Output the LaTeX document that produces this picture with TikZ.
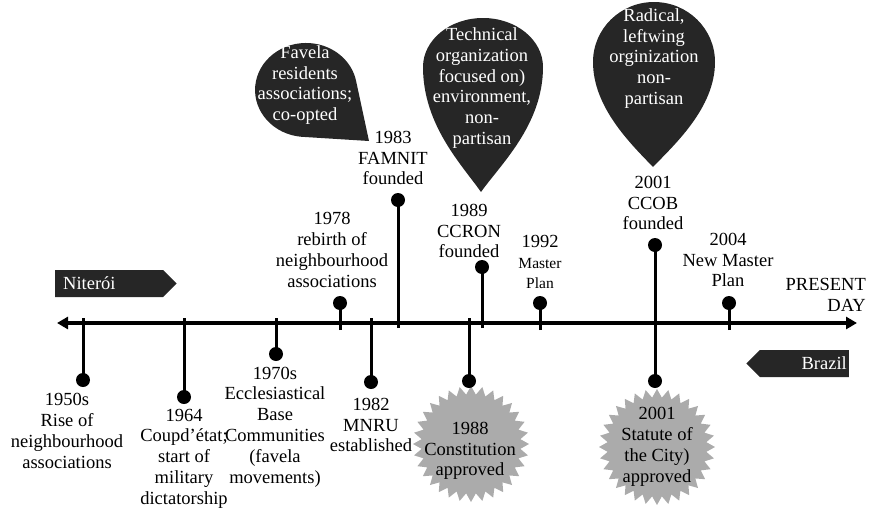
\documentclass[tikz,border=0pt]{standalone}
\usepackage{fontspec}
\setmainfont{Liberation Serif}
\usetikzlibrary{positioning}
\usetikzlibrary{arrows.meta}
\usetikzlibrary{shapes.geometric}
\usetikzlibrary{shapes.symbols}

\begin{document}
\begin{tikzpicture}
[x = 1pt, y = -1pt, 
font = \fontsize{18.5}{20.8}\selectfont, 
axis/.style = {{Triangle[length = 11pt, width = 12pt]}-{Triangle[length = 11pt, width = 12pt]}, line width = 4pt}, 
stem/.style = {line width = 3pt}, 
dot/.style = {circle, fill = black, inner sep = 0pt, minimum size = 14pt}, 
event/.style = {align = center, inner sep = 0pt}, 
pin/.style = {fill = black!85}, 
pin text/.style = {align = center, inner sep = 0pt, text = white}, 
burst/.style = {star, star points = 32, star point ratio = 1.17, fill = black!33, minimum size = 116pt, inner sep = 0pt}, 
place/.style = {signal, fill = black!85, text = white, minimum height = 27pt, inner ysep = 2pt}]

\useasboundingbox (0, 0) rectangle (871, 509);

% timeline
\coordinate (past) at (57, 323);
\coordinate (present) at (857, 323);
\draw[axis] (past) -- (present);
\node[event, align = right, anchor = east] (present day) at (866, 295) {PRESENT\\DAY};

\node[place, signal to = east, anchor = west, text width = 92pt, inner xsep = 8pt, align = left] (niteroi) at (55, 283.5) {Niterói};
\node[place, signal to = west, anchor = east, text width = 85pt, inner xsep = 2pt, align = right] (brazil) at (849, 363.5) {Brazil};

% bubbles
\fill[pin] (369, 141) -- (301.6, 136.8) arc[start angle = 95, end angle = 350, x radius = 51, y radius = 47] -- cycle;
\fill[pin] (481, 192) .. controls (462, 165) and (423, 125) .. (423, 67) arc[x radius = 60, y radius = 49, start angle = 180, end angle = 360] .. controls (543, 125) and (500, 165) .. (481, 192);
\fill[pin] (653, 167) .. controls (632, 145) and (593, 108) .. (593, 62) arc[x radius = 61, y radius = 60, start angle = 180, end angle = 360] .. controls (715, 108) and (674, 145) .. (653, 167);
\node[pin text] (favela) at (305, 85) {Favela\\residents\\associations;\\co-opted};
\node[pin text] (technical) at (482, 88) {Technical\\organization\\focused on)\\environment,\\non-\\partisan};
\node[pin text] (radical) at (654, 58.5) {Radical,\\leftwing\\orginization\\non-\\partisan};

\node[burst] (burst 1988) at (471, 444) {};
\node[burst] (burst 2001) at (657, 447) {};

% stems below the line
\coordinate (at 1950) at (83, 318);
\coordinate (at 1964) at (184, 318);
\coordinate (at 1970) at (276, 318);
\coordinate (at 1982) at (371, 318);
\coordinate (at 1988) at (469, 318);
\node[dot] (dot 1950) at (83, 380) {};
\node[dot] (dot 1964) at (184, 397) {};
\node[dot] (dot 1970) at (276, 354) {};
\node[dot] (dot 1982) at (371, 382) {};
\node[dot] (dot 1988) at (469, 381) {};
\draw[stem] (at 1950) -- (dot 1950.center);
\draw[stem] (at 1964) -- (dot 1964.center);
\draw[stem] (at 1970) -- (dot 1970.center);
\draw[stem] (at 1982) -- (dot 1982.center);
\draw[stem] (at 1988) -- (dot 1988.center);

% stems above the line
\coordinate (at 1978) at (340, 330);
\coordinate (at 1983) at (398, 328);
\coordinate (at 1989) at (482, 328);
\coordinate (at 1992) at (540, 330);
\coordinate (at 2004) at (729, 330);
\node[dot] (dot 1978) at (340, 303) {};
\node[dot] (dot 1983) at (398, 200) {};
\node[dot] (dot 1989) at (482, 267) {};
\node[dot] (dot 1992) at (540, 303) {};
\node[dot] (dot 2004) at (729, 303) {};
\draw[stem] (at 1978) -- (dot 1978.center);
\draw[stem] (at 1983) -- (dot 1983.center);
\draw[stem] (at 1989) -- (dot 1989.center);
\draw[stem] (at 1992) -- (dot 1992.center);
\draw[stem] (at 2004) -- (dot 2004.center);

\node[dot] (dot ccob) at (655, 245) {};
\node[dot] (dot statute) at (655, 381) {};
\draw[stem] (dot ccob.center) -- (dot statute.center);

% labels
\node[event] (text 1950) at (67, 431) {1950s\\Rise of\\neighbourhood\\associations};
\node[event] (text 1964) at (184, 458.5) {1964\\Coupd'état;\\start of\\military\\dictatorship};
\node[event] (text 1970) at (275, 427) {1970s\\Ecclesiastical\\Base\\Communities\\(favela\\movements)};
\node[event] (text 1978) at (332, 250) {1978\\rebirth of\\neighbourhood\\associations};
\node[event] (text 1982) at (371, 425) {1982\\MNRU\\established};
\node[event] (text 1983) at (393, 158) {1983\\FAMNIT\\founded};
\node[event] (text 1988) at (470, 451) {1988\\Constitution\\approved};
\node[event] (text 1989) at (469, 231) {1989\\CCRON\\founded};
\node[event] (text 1992) at (540, 262) {1992\\{\fontsize{15.5}{17.5}\selectfont Master}\\{\fontsize{15.5}{17.5}\selectfont Plan}};
\node[event] (text ccob) at (653, 203) {2001\\CCOB\\founded};
\node[event] (text statute) at (657, 447) {2001\\Statute of\\the City)\\approved};
\node[event] (text 2004) at (728, 260) {2004\\New Master\\Plan};
\end{tikzpicture}
\end{document}
